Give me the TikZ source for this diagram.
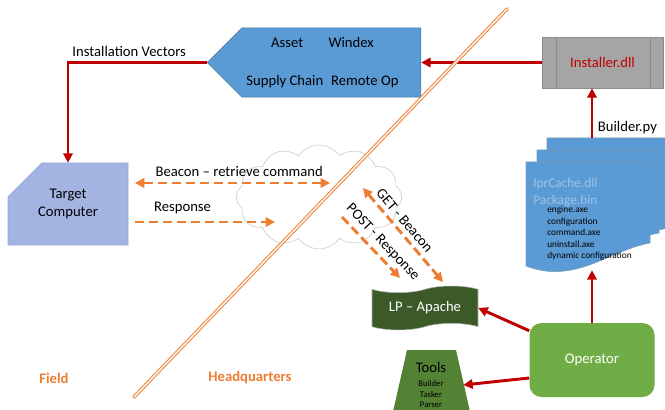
\documentclass[tikz,border=0pt]{standalone}
\usepackage{fontspec}
\setmainfont{Carlito}
\usepackage{tikz}
\usetikzlibrary{shapes.symbols, shapes.misc, arrows.meta, calc}

\definecolor{vecblue}{HTML}{5B9BD5}
\definecolor{vecline}{HTML}{41719C}
\definecolor{instgray}{HTML}{A5A5A5}
\definecolor{instline}{HTML}{8C8C8C}
\definecolor{darkred}{HTML}{C00000}
\definecolor{tgtblue}{HTML}{A3B4E2}
\definecolor{tgtline}{HTML}{8FAADC}
\definecolor{hqorange}{HTML}{ED7D31}
\definecolor{lpgreen}{HTML}{3B5A27}
\definecolor{toolgreen}{HTML}{548235}
\definecolor{opgreen}{HTML}{70AD47}
\definecolor{doctext}{HTML}{9DC3E6}

\begin{document}
\begin{tikzpicture}[x=0.75pt, y=-0.75pt, >={Triangle[length=7pt, width=7pt]},
    font=\fontsize{11}{13}\selectfont,
    redarrow/.style={draw=darkred, line width=2.2pt, ->},
    dasharrow/.style={draw=hqorange, line width=2.2pt, dash pattern=on 7pt off 3.5pt},
    vecbox/.style={shape=signal, signal to=west, signal pointer angle=90, fill=vecblue,
      draw=vecline, minimum width=146pt, minimum height=52pt, align=center},
    instbox/.style={rectangle, fill=instgray, draw=instline, text=darkred,
      minimum width=90.75pt, minimum height=38.25pt},
    tgtbox/.style={shape=chamfered rectangle, chamfered rectangle corners=north west,
      chamfered rectangle xsep=19pt, chamfered rectangle ysep=11pt, fill=tgtblue,
      draw=tgtline, minimum width=90pt, minimum height=61.5pt, align=center},
    toolbox/.style={rectangle, minimum width=48pt, minimum height=50pt,
      align=center, inner sep=1pt, font=\fontsize{6.5}{8}\selectfont},
    docfill/.style={fill=vecblue, draw=vecline!70, line width=0.4pt},
    doctitle/.style={text=doctext, inner sep=0pt, font=\fontsize{10}{12}\selectfont},
    doclist/.style={inner sep=0pt, align=left, font=\fontsize{7}{8.6}\selectfont},
    zone/.style={text=hqorange, font=\fontsize{11}{13}\selectfont\bfseries},
    divider/.style={draw=hqorange!85, double=white, double distance=0.9pt,
      line width=0.9pt, line cap=round}]

  \useasboundingbox (0,0) rectangle (665,410);
  \clip (0,0) rectangle (665,410);

  % headquarters side
  \node[vecbox] (vec) at (331.5,62.5)
    {Asset\hspace{19pt}Windex\hspace{13.5pt}\mbox{}\\[15pt]Supply Chain\hspace{6pt}Remote Op\hspace{13.5pt}\mbox{}};
  \node[instbox] (inst) at (602.5,62.5) {Installer.dll};
  \draw[instline] ($(inst.north west)+(15,0)$) -- ($(inst.south west)+(15,0)$)
                  ($(inst.north east)+(-13,0)$) -- ($(inst.south east)+(-13,0)$);

  \foreach \l/\t/\r/\b in {547/138/668/228, 537/150/659/233, 526/162/650/243}
    \filldraw[docfill] (\l,\t) -- (\r,\t) -- (\r,\b)
      .. controls (\r-40,\b+7) and (\r-75,\b+42) .. (\l,\b+23) -- cycle;
  \node[inner sep=0pt, minimum width=104pt, minimum height=99pt] (docs) at (592,204) {};
  \node[doctitle, anchor=west] (cache) at (533,184) {IprCache.dll};
  \node[doctitle, anchor=west] (pkg) at (533,201) {Package.bin};
  \node[doclist, anchor=north west] (files) at (547,206)
    {engine.axe\\configuration\\command.axe\\uninstall.axe\\dynamic configuration};

  \node[rectangle, rounded corners=9pt, fill=opgreen, text=white,
    minimum width=93.75pt, minimum height=55.5pt] (op) at (592,360) {Operator};
  \node[shape=tape, fill=lpgreen, draw=gray!60, text=white, minimum width=79.5pt,
    minimum height=33pt] (lp) at (425,308) {LP – Apache};
  \fill[toolgreen] (407,350) -- (456,350) -- (471,416) -- (392,416) -- cycle;
  \node[toolbox] (tools) at (431,385)
    {{\fontsize{11}{13}\selectfont Tools}\\[2.5pt]Builder\\Tasker\\Parser};

  % field side
  \node[tgtbox] (tgt) at (68,204) {Target\\Computer};
  \node[shape=cloud, cloud puffs=12, cloud puff arc=110, aspect=1.6, draw=gray!45,
    fill=white, minimum width=124pt, minimum height=78pt] (cld) at (319,197) {};

  \coordinate (bcn) at (330,183);
  \coordinate (rsp) at (275,222);
  \coordinate (getA) at (363,188);
  \coordinate (getB) at (443,282);
  \coordinate (postA) at (342,217);
  \coordinate (postB) at (400,278);

  \draw[dasharrow, <->, shorten >=5pt] (bcn) -- (bcn -| tgt.east)
    node[above, pos=0.45, text=black] {Beacon – retrieve command};
  \draw[dasharrow, ->, shorten <=5pt] (rsp -| tgt.east) -- (rsp)
    node[above=2pt, pos=0.37, text=black] {Response};
  \draw[dasharrow, <->] (getA) -- (getB) node[pos=0.42, sloped, above, text=black] {GET - Beacon};
  \draw[dasharrow, ->] (postA) -- (postB) node[pos=0.55, sloped, above, text=black] {POST - Response};

  % red connectors
  \draw[redarrow] (inst.west) -- (vec.east);
  \draw[redarrow] (vec.west) -| (tgt.north) node[pos=0.28, above] {Installation Vectors};
  \draw[redarrow] (docs.north) -- (docs.north |- inst.south) node[pos=0.2, right] {Builder.py};
  \draw[redarrow] (op.north) -- (op.north |- docs.south);
  \draw[redarrow] (op.155) -- (lp.east);
  \draw[redarrow] (op.196) -- (tools.east);

  % field / headquarters divide
  \coordinate (divA) at (134,397);
  \coordinate (divB) at (507,9);
  \draw[divider] (divA) -- (divB);
  \node[zone] (field) at (54,378) {Field};
  \node[zone] (hq) at (250,378) {Headquarters};
\end{tikzpicture}
\end{document}
